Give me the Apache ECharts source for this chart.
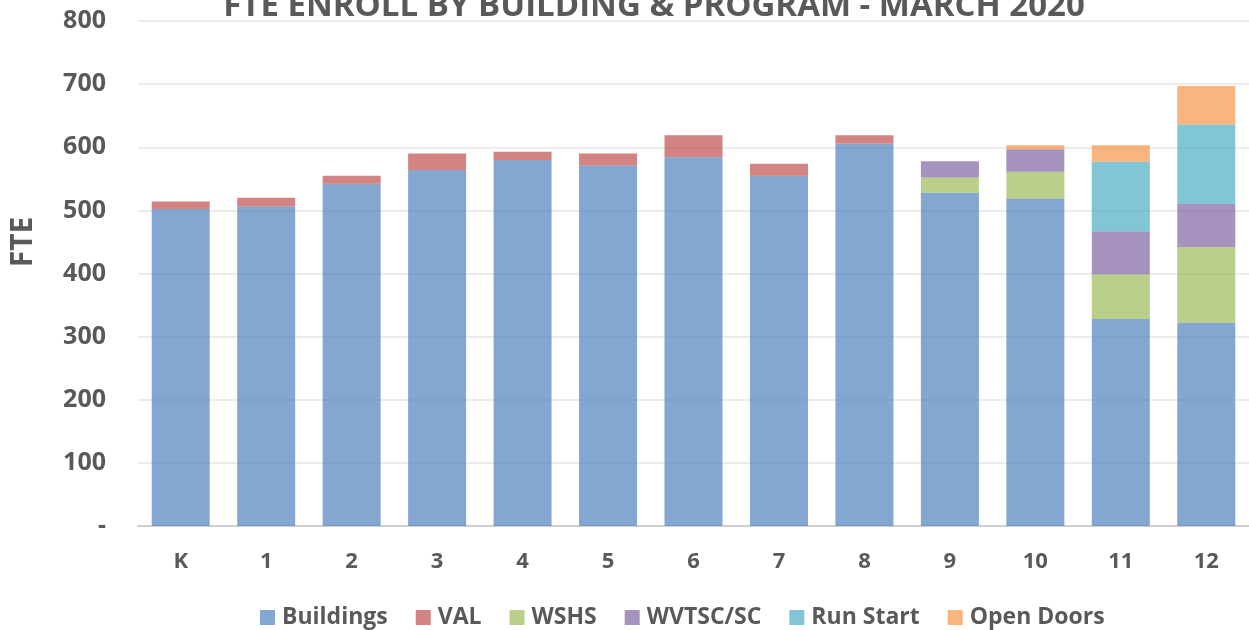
<!DOCTYPE html>
<html>
<head>
<meta charset="utf-8">
<script src="https://cdn.jsdelivr.net/npm/echarts@6/dist/echarts.min.js"></script>
<style>html,body{margin:0;padding:0;background:#fff}#c{width:1249px;height:630px}</style>
</head>
<body>
<div id="c"></div>
<script>
const categories = ['K','1','2','3','4','5','6','7','8','9','10','11','12'];
const buildings = [502, 506, 542, 564, 580, 571, 584, 555, 606, 528, 519, 328, 322];
const val       = [12, 14, 13, 26, 13, 19, 35, 19, 13, 0, 0, 0, 0];
const wshs      = [0, 0, 0, 0, 0, 0, 0, 0, 0, 24, 42, 71, 120];
const wvtsc     = [0, 0, 0, 0, 0, 0, 0, 0, 0, 26, 36, 68, 68];
const runStart  = [0, 0, 0, 0, 0, 0, 0, 0, 0, 0, 0, 110, 126];
const openDoors = [0, 0, 0, 0, 0, 0, 0, 0, 0, 0, 6, 26, 61];
const yTicks = [0, 100, 200, 300, 400, 500, 600, 700, 800];

const seriesDefs = [
  ['Buildings', buildings, '#4F81BD'],
  ['VAL', val, '#C0504D'],
  ['WSHS', wshs, '#9BBB59'],
  ['WVTSC/SC', wvtsc, '#8064A2'],
  ['Run Start', runStart, '#4BACC6'],
  ['Open Doors', openDoors, '#F79646']
];
const txt = '#595959';
const font = 'Open Sans';

const chart = echarts.init(document.getElementById('c'));
chart.setOption({
  animation: false,
  title: {
    text: 'FTE ENROLL BY BUILDING & PROGRAM - MARCH 2020',
    left: 649, textAlign: 'center', top: -15,
    textStyle: {fontFamily: font, fontWeight: 'bold', fontSize: 33, color: txt}
  },
  legend: {
    left: 255, bottom: -4,
    icon: 'rect',
    itemWidth: 15, itemHeight: 15, itemGap: 28,
    textStyle: {fontFamily: font, fontWeight: 'bold', fontSize: 23, color: txt, padding: [0,0,0,2]},
    data: seriesDefs.map(s => s[0])
  },
  grid: {left: 135, right: -2, top: 21, bottom: 104},
  xAxis: {
    type: 'category', data: categories,
    axisLine: {lineStyle: {color: '#D0D0D0', width: 2}},
    axisTick: {show: false},
    axisLabel: {fontFamily: font, fontWeight: 'bold', fontSize: 22, color: txt, margin: 25}
  },
  yAxis: {
    type: 'value', min: 0, max: 800, interval: 100,
    name: 'FTE', nameLocation: 'middle', nameGap: 100,
    nameTextStyle: {fontFamily: font, fontWeight: 'bold', fontSize: 30, color: txt, padding: [0,0,0,63]},
    axisLine: {show: false}, axisTick: {show: false},
    splitLine: {lineStyle: {color: '#E6E6E6', width: 1.5}},
    axisLabel: {
      fontFamily: font, fontWeight: 'bold', fontSize: 25, color: txt, margin: 32,
      customValues: yTicks,
      formatter: v => v === 0 ? '-' : String(v)
    }
  },
  series: seriesDefs.map(s => ({
    name: s[0], type: 'bar', stack: 'total', data: s[1], barWidth: 58,
    itemStyle: {color: s[2], opacity: 0.7}
  }))
});
</script>
</body>
</html>
